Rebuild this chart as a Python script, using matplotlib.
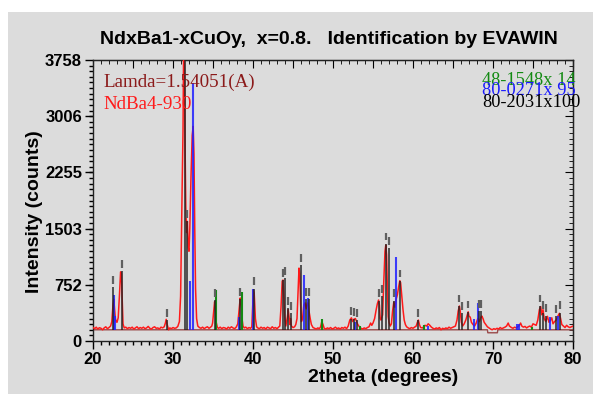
import matplotlib
matplotlib.use('Agg')
import matplotlib.pyplot as plt
from matplotlib.patches import Rectangle
from matplotlib.ticker import MultipleLocator, FixedLocator
import numpy as np

tt = [20.0, 20.2, 20.4, 20.6, 20.8, 21.0, 21.2, 21.4, 21.6, 21.8, 22.0, 22.2,
      22.35, 22.5, 22.6, 22.7, 22.8, 22.9, 23.0, 23.15, 23.3, 23.45, 23.55, 23.65, 23.75,
      23.9, 24.1, 24.3, 24.5, 24.7, 24.9, 25.1, 25.3, 25.5, 25.7, 25.9, 26.1, 26.3,
      26.5, 26.7, 26.9, 27.1, 27.3, 27.5, 27.7, 27.9, 28.1, 28.3, 28.5, 28.7, 28.9,
      29.05, 29.15, 29.3, 29.45, 29.6, 29.8, 30.0, 30.2, 30.4, 30.6, 30.8, 30.95,
      31.05, 31.15, 31.25, 31.32, 31.42, 31.5, 31.6, 31.7, 31.8, 31.9, 32.0, 32.1,
      32.25, 32.4, 32.52, 32.62, 32.72, 32.82, 32.95, 33.1, 33.3, 33.5, 33.7, 33.9,
      34.1, 34.3, 34.5, 34.7, 34.85, 34.95, 35.1, 35.2, 35.3, 35.4, 35.55, 35.7, 35.9,
      36.1, 36.3, 36.5, 36.7, 36.9, 37.1, 37.3, 37.5, 37.7, 37.9, 38.1, 38.25, 38.4,
      38.5, 38.6, 38.75, 38.9, 39.1, 39.3, 39.5, 39.7, 39.85, 39.95, 40.05, 40.15,
      40.3, 40.45, 40.6, 40.8, 41.0, 41.2, 41.4, 41.6, 41.8, 42.0, 42.2, 42.4, 42.6,
      42.8, 43.0, 43.2, 43.35, 43.5, 43.65, 43.75, 43.85, 43.95, 44.1, 44.3, 44.4,
      44.5, 44.6, 44.7, 44.8, 45.0, 45.2, 45.35, 45.5, 45.65, 45.75, 45.85, 45.95,
      46.05, 46.2, 46.35, 46.5, 46.65, 46.8, 46.9, 47.0, 47.15, 47.3, 47.5, 47.7,
      47.9, 48.1, 48.3, 48.45, 48.6, 48.75, 48.9, 49.1, 49.3, 49.5, 49.7, 49.9, 50.1,
      50.3, 50.5, 50.7, 50.9, 51.1, 51.3, 51.5, 51.7, 51.9, 52.1, 52.3, 52.45, 52.6,
      52.8, 52.95, 53.1, 53.3, 53.5, 53.7, 53.9, 54.1, 54.3, 54.5, 54.7, 54.85, 55.0,
      55.2, 55.4, 55.55, 55.7, 55.8, 55.9, 56.0, 56.2, 56.35, 56.5, 56.6, 56.7, 56.8,
      56.9, 57.0, 57.15, 57.3, 57.45, 57.6, 57.75, 57.9, 58.05, 58.2, 58.35, 58.45,
      58.6, 58.75, 58.9, 59.05, 59.2, 59.4, 59.6, 59.8, 60.0, 60.2, 60.4, 60.55,
      60.67, 60.8, 60.95, 61.2, 61.5, 61.7, 61.9, 62.1, 62.3, 62.5, 62.7, 62.9, 63.1,
      63.3, 63.5, 63.7, 63.9, 64.1, 64.3, 64.5, 64.7, 64.9, 65.1, 65.3, 65.5, 65.65,
      65.8, 65.9, 66.05, 66.2, 66.4, 66.6, 66.8, 66.9, 67.0, 67.15, 67.3, 67.5, 67.7,
      67.9, 68.1, 68.3, 68.5, 68.6, 68.75, 68.9, 69.1, 69.3, 69.5, 69.7, 69.9, 70.1,
      70.3, 70.5, 70.7, 70.9, 71.1, 71.3, 71.5, 71.7, 71.9, 72.05, 72.3, 72.5, 72.7,
      72.9, 73.1, 73.3, 73.45, 73.6, 73.8, 74.0, 74.2, 74.4, 74.6, 74.8, 75.0, 75.2,
      75.4, 75.6, 75.8, 75.96, 76.1, 76.25, 76.4, 76.6, 76.8, 77.0, 77.2, 77.35, 77.5,
      77.7, 77.9, 78.1, 78.3, 78.45, 78.6, 78.8, 79.0, 79.2, 79.4, 79.6, 79.8, 80.0]
ii = [180, 165, 185, 160, 178, 170, 150, 175, 190, 165, 180, 200,
      260, 480, 560, 420, 300, 260, 250, 310, 600, 925, 900, 560, 230,
      175, 185, 165, 180, 170, 185, 160, 175, 190, 165, 180, 170, 185,
      165, 175, 195, 170, 160, 180, 190, 170, 175, 160, 185, 175, 190,
      240, 290, 210, 150, 175, 165, 180, 170, 175, 195, 260, 600,
      1400, 2100, 2800, 3800, 3800, 2700, 1800, 1450, 1600, 1250, 1200, 1500,
      2200, 2750, 2870, 2500, 1500, 700, 300, 200, 180, 170, 185, 165,
      180, 190, 170, 185, 200, 240, 420, 525, 470, 250, 180, 170, 185,
      165, 180, 175, 160, 185, 170, 190, 175, 165, 185, 230, 400, 575,
      520, 320, 200, 175, 185, 165, 180, 170, 190, 450, 680, 640,
      300, 190, 175, 165, 185, 170, 180, 160, 185, 175, 165, 190, 170,
      180, 165, 185, 200, 450, 800, 815, 600, 330, 200, 320, 420,
      330, 220, 300, 200, 180, 190, 220, 300, 700, 975, 900, 500,
      260, 300, 480, 510, 430, 510, 500, 400, 300, 220, 180, 170,
      160, 175, 165, 190, 260, 220, 170, 160, 175, 165, 180, 160, 170,
      185, 165, 175, 160, 180, 170, 185, 165, 200, 280, 310, 260, 290,
      300, 260, 220, 190, 170, 160, 175, 165, 180, 190, 240, 210, 240,
      300, 420, 500, 548, 480, 300, 280, 350, 800, 1200, 1283, 1150, 700,
      330, 250, 200, 230, 400, 520, 450, 560, 620, 720, 806, 780,
      600, 420, 280, 220, 190, 175, 165, 180, 170, 185, 200, 250,
      280, 220, 180, 175, 210, 200, 230, 210, 185, 170, 160, 175, 165,
      180, 150, 170, 160, 175, 165, 185, 170, 180, 190, 200, 280, 400,
      468, 400, 250, 200, 230, 280, 350, 390, 330, 320, 250, 220, 200,
      240, 300, 260, 320, 334, 300, 250, 220, 190, 175, 160, 150, 165,
      155, 170, 160, 180, 165, 175, 185, 200, 240, 200, 180, 170, 185,
      175, 190, 210, 240, 200, 185, 195, 175, 190, 200, 185, 230, 220,
      210, 280, 420, 460, 350, 420, 300, 260, 330, 250, 280, 310, 230,
      260, 280, 330, 370, 300, 220, 200, 180, 210, 190, 180, 190, 200]

# fitted background line
bg_x = [20.0, 69.3, 69.35, 70.55, 70.6, 80.0]
bg_y = [150, 150, 110, 110, 150, 150]

# card 48-1548 (green)
g_pos = [35.4, 38.67, 48.67, 53.4, 61.4, 74.9]
g_int = [682, 660, 290, 200, 220, 190]

# card 80-0271 (blue)
b_pos = [22.6, 22.75, 32.1, 32.45, 38.25, 40.04, 46.4, 46.9, 52.7, 57.9, 61.9,
         67.67, 68.17, 72.96, 73.2, 77.1, 78.1]
b_int = [620, 330, 800, 3450, 320, 690, 880, 575, 260, 1127, 200,
         300, 512, 230, 230, 325, 340]

# card 80-2031 (black, with markers)
k_pos = [22.55, 23.67, 29.25, 31.5, 31.8, 35.3, 38.4, 40.1, 43.75, 44.0, 44.4,
         44.7, 45.96, 46.6, 46.95, 52.25, 52.65, 53.05, 55.8, 56.1, 56.6, 56.96,
         57.6, 58.4, 60.67, 65.8, 66.08, 66.9, 68.2, 68.5, 75.9, 76.2, 76.65,
         77.9, 78.4]
k_int = [720, 930, 280, 3758, 1600, 550, 560, 700, 815, 840, 440,
         370, 1015, 560, 560, 300, 290, 280, 540, 600, 1300, 1243,
         540, 806, 280, 470, 370, 390, 400, 400, 470, 380, 340,
         330, 380]

yticks = [0, 752, 1503, 2255, 3006, 3758]

sans = ['Liberation Sans Narrow', 'Liberation Sans', 'DejaVu Sans']
serif = ['Liberation Serif', 'DejaVu Serif']
grey = '#dcdcdc'

W, H = 593, 405
fig = plt.figure(figsize=(W / 100, H / 100), dpi=100)
fig.patch.set_facecolor('white')
fig.patches.append(Rectangle((8 / W, 1 - 394 / H), 585 / W, 382 / H,
                             transform=fig.transFigure, facecolor=grey,
                             edgecolor='none', zorder=-5))

ax = fig.add_axes([93 / W, 1 - 341 / H, 480 / W, 281 / H])
ax.set_zorder(2)
ax.set_facecolor(grey)

ax.plot(bg_x, bg_y, color='#9a4a4a', lw=1.0, zorder=2)
ax.plot(tt, ii, color='#ff1a1a', lw=1.1, zorder=3)

base = 150
ax.vlines(g_pos, base, g_int, colors='#138a13', lw=1.5, zorder=4)
ax.vlines(b_pos, base, b_int, colors='#2020ff', lw=1.5, alpha=0.85, zorder=4)
ax.vlines(k_pos, base, k_int, colors='#222222', lw=1.4, alpha=0.75, zorder=5)
k_arr = np.array(k_int, dtype=float)
ax.vlines(k_pos, k_arr + 45, k_arr + 150, colors='#606060', lw=1.6, zorder=5)

ax.set_xlim(20, 80)
ax.set_ylim(0, 3758)
ax.xaxis.set_major_locator(MultipleLocator(10))
ax.xaxis.set_minor_locator(MultipleLocator(1))
ax.yaxis.set_major_locator(FixedLocator(yticks))
ax.yaxis.set_minor_locator(MultipleLocator(3758 / 50))
ax.tick_params(which='both', width=1)
ax.tick_params(axis='x', which='major', direction='out', length=6, pad=2)
ax.tick_params(axis='x', which='minor', direction='out', length=3)
ax.tick_params(axis='y', which='major', direction='out', length=6, pad=2)
ax.tick_params(axis='y', which='minor', direction='out', length=3)
for sp in ax.spines.values():
    sp.set_linewidth(1.0)
    sp.set_color('#222222')

# inward ticks on the top and right frame
tx = ax.secondary_xaxis('top')
tx.xaxis.set_major_locator(MultipleLocator(5))
tx.xaxis.set_minor_locator(MultipleLocator(1))
tx.tick_params(which='major', direction='in', length=6, labeltop=False)
tx.tick_params(which='minor', direction='in', length=3)
ry = ax.secondary_yaxis('right')
ry.yaxis.set_major_locator(FixedLocator(yticks))
ry.yaxis.set_minor_locator(MultipleLocator(3758 / 50))
ry.tick_params(which='major', direction='in', length=6, labelright=False)
ry.tick_params(which='minor', direction='in', length=3)

for lab in ax.get_xticklabels() + ax.get_yticklabels():
    lab.set_family(sans)
    lab.set_fontweight('bold')
    lab.set_fontsize(12)

fig.text(329 / W, 1 - 40 / H, 'NdxBa1-xCuOy,  x=0.8.   Identification by EVAWIN',
         family=sans, fontweight='bold', fontsize=14, ha='center', va='center')
fig.text(35 / W, 1 - 212 / H, 'Intensity (counts)', family=sans, fontweight='bold',
         fontsize=14, rotation=90, ha='center', va='center')
fig.text(383 / W, 1 - 378 / H, '2theta (degrees)', family=sans, fontweight='bold',
         fontsize=14, ha='center', va='center')

fig.text(103 / W, 1 - 87 / H, 'Lamda=1.54051(A)', family=serif, fontsize=13.7,
         color='#8b1a1a', va='baseline', zorder=6)
fig.text(103 / W, 1 - 109 / H, 'NdBa4-930', family=serif, fontsize=13.7,
         color='#ff1a1a', va='baseline', zorder=6)
fig.text(482 / W, 1 - 85 / H, '48-1548x 14', family=serif, fontsize=13.2,
         color='#138a13', ha='left', va='baseline', zorder=6)
fig.text(482 / W, 1 - 95 / H, '80-0271x 95', family=serif, fontsize=13.2,
         color='#1a1aff', ha='left', va='baseline', zorder=6)
fig.text(482 / W, 1 - 107 / H, '80-2031x100', family=serif, fontsize=13.2,
         color='black', ha='left', va='baseline', zorder=6)

fig.savefig('out.png', dpi=100, facecolor=fig.get_facecolor())
